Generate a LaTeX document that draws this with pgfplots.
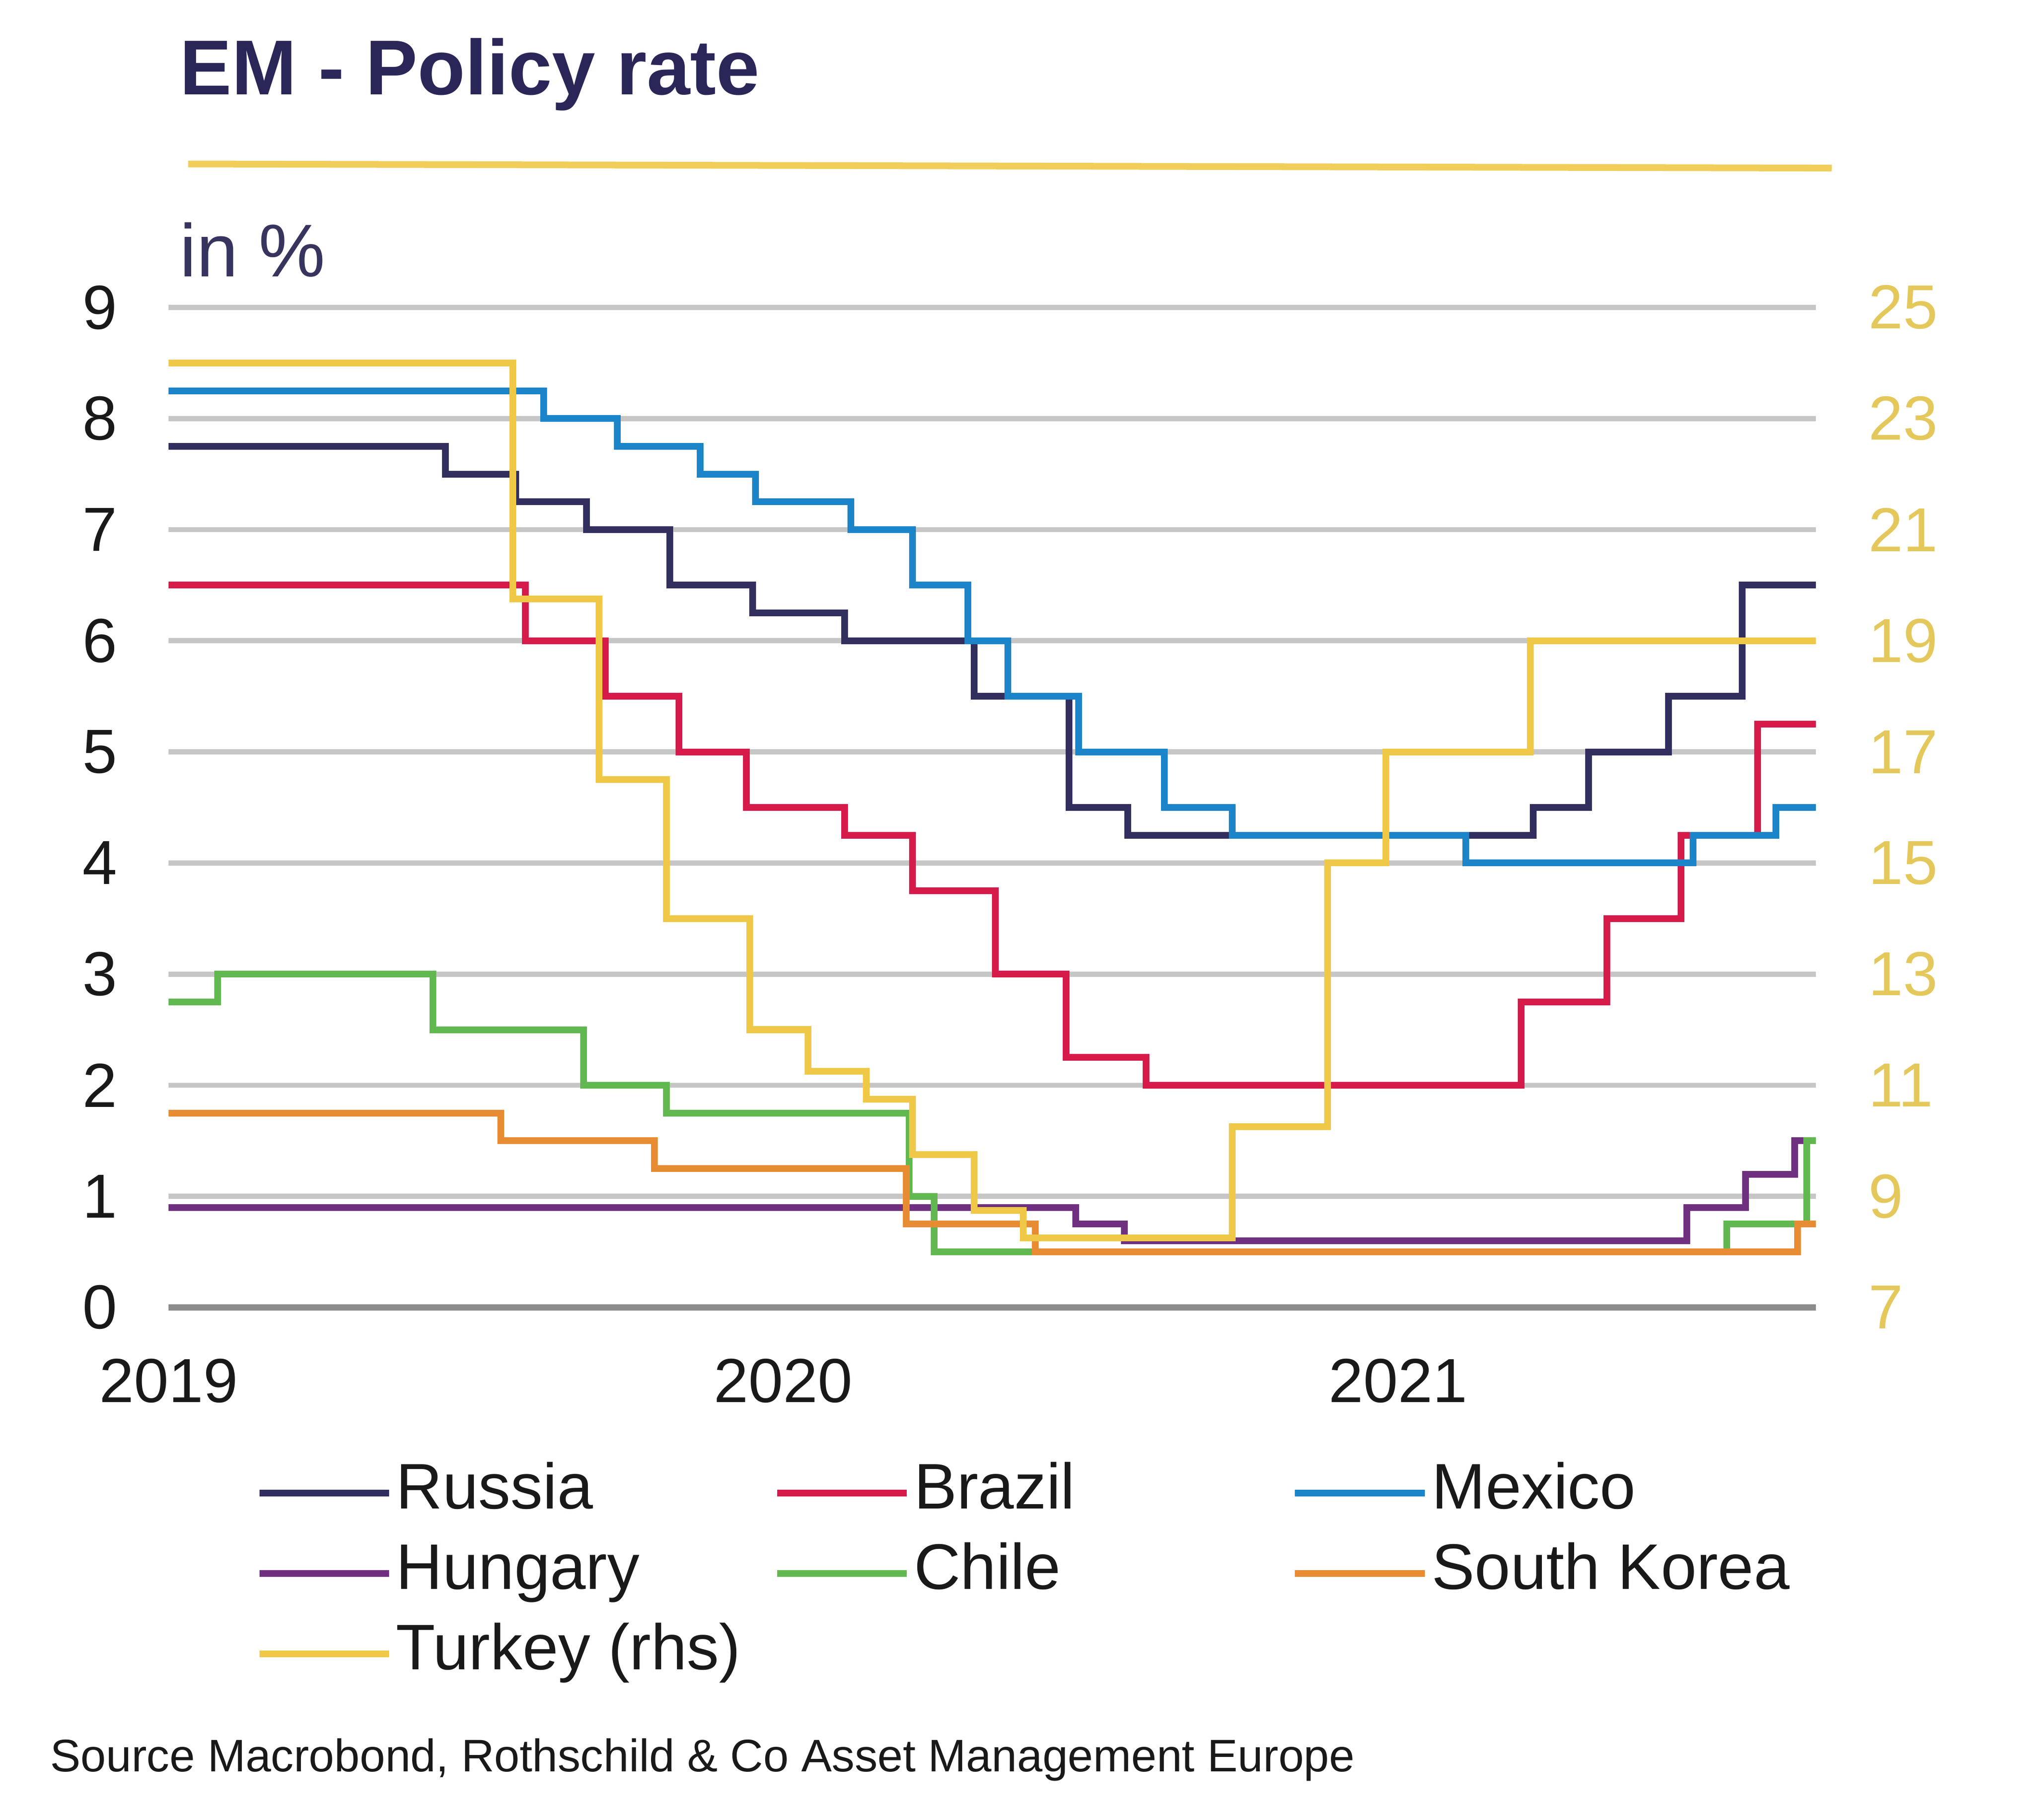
\documentclass[border=0pt]{standalone}
\usepackage{fontspec}
\setmainfont{Liberation Sans}
\usepackage{pgfplots}
\pgfplotsset{compat=1.18}
\usepackage{pgfplotstable}

\definecolor{cRussia}{RGB}{50,46,94}
\definecolor{cBrazil}{RGB}{214,26,74}
\definecolor{cMexico}{RGB}{28,132,200}
\definecolor{cHungary}{RGB}{112,48,128}
\definecolor{cChile}{RGB}{98,184,80}
\definecolor{cKorea}{RGB}{232,140,52}
\definecolor{cTurkey}{RGB}{240,200,72}
\definecolor{cTitle}{RGB}{42,38,88}
\definecolor{cGrid}{RGB}{198,198,198}
\definecolor{cZero}{RGB}{140,140,140}
\definecolor{cRight}{RGB}{228,200,92}
\definecolor{cTick}{RGB}{25,25,25}

\pgfplotstableread{
x y
2019.000 7.75
2019.450 7.50
2019.565 7.25
2019.680 7.00
2019.815 6.50
2019.950 6.25
2020.100 6.00
2020.310 5.50
2020.465 4.50
2020.560 4.25
2021.220 4.50
2021.310 5.00
2021.440 5.50
2021.560 6.50
2021.680 6.50
}\russia

\pgfplotstableread{
x y
2019.000 6.50
2019.580 6.00
2019.710 5.50
2019.830 5.00
2019.940 4.50
2020.100 4.25
2020.210 3.75
2020.345 3.00
2020.460 2.25
2020.590 2.00
2021.200 2.75
2021.340 3.50
2021.460 4.25
2021.585 5.25
2021.680 5.25
}\brazil

\pgfplotstableread{
x y
2019.000 8.25
2019.610 8.00
2019.730 7.75
2019.865 7.50
2019.955 7.25
2020.110 7.00
2020.210 6.50
2020.300 6.00
2020.365 5.50
2020.480 5.00
2020.620 4.50
2020.730 4.25
2021.110 4.00
2021.480 4.25
2021.615 4.50
2021.680 4.50
}\mexico

\pgfplotstableread{
x y
2019.000 0.90
2020.476 0.75
2020.555 0.60
2021.470 0.90
2021.565 1.20
2021.645 1.50
2021.680 1.50
}\hungary

\pgfplotstableread{
x y
2019.000 2.75
2019.080 3.00
2019.430 2.50
2019.675 2.00
2019.810 1.75
2020.205 1.00
2020.245 0.50
2021.535 0.75
2021.665 1.50
2021.680 1.50
}\chile

\pgfplotstableread{
x y
2019.000 1.75
2019.540 1.50
2019.790 1.25
2020.200 0.75
2020.410 0.50
2021.650 0.75
2021.680 0.75
}\korea

\pgfplotstableread{
x y
2019.000 24.00
2019.560 19.75
2019.700 16.50
2019.810 14.00
2019.945 12.00
2020.040 11.25
2020.135 10.75
2020.210 9.75
2020.310 8.75
2020.390 8.25
2020.730 10.25
2020.885 15.00
2020.980 17.00
2021.215 19.00
2021.680 19.00
}\turkey

\begin{document}
\begin{tikzpicture}
\path[use as bounding box] (0pt,0pt) rectangle (392pt,-350.75pt);

\begin{axis}[
  at={(32.5pt,-252pt)}, anchor=south west,
  scale only axis, width=317.5pt, height=192.75pt,
  xmin=2019, xmax=2021.68, ymin=0, ymax=9,
  xtick={2019,2020,2021}, xticklabels={2019,2020,2021},
  ytick={0,1,...,9},
  axis line style={draw=none}, tick style={draw=none},
  ymajorgrids, major grid style={draw=cGrid, line width=1pt},
  extra y ticks={0}, extra y tick labels={},
  extra y tick style={grid=major, major grid style={draw=cZero, line width=1.25pt}},
  /pgf/number format/assume math mode=true,
  ticklabel style={font=\fontsize{12}{14}\selectfont, text=cTick},
  yticklabel style={xshift=-6.4pt},
  xticklabel style={yshift=-6.4pt},
  legend columns=3,
  legend cell align=left,
  legend image code/.code={\draw[#1] (0pt,0pt) -- (25pt,0pt);},
  legend style={draw=none, fill=none, inner sep=0pt, outer sep=0pt,
    at={(axis description cs:0.053,-0.1545)}, anchor=north west,
    font=\fontsize{12.4}{14}\selectfont, text=cTick,
    row sep=3.5pt,
    nodes={inner sep=0pt, text height=9pt, text depth=3pt},
    /tikz/every odd column/.append style={column sep=0.75pt},
    /tikz/every even column/.append style={column sep=0pt}},
]
\addplot[cRussia, line width=1.3pt, const plot] table {\russia};
\addlegendentry{\makebox[72.75pt][l]{Russia}}
\addplot[cBrazil, line width=1.3pt, const plot] table {\brazil};
\addlegendentry{\makebox[72.75pt][l]{Brazil}}
\addplot[cMexico, line width=1.3pt, const plot] table {\mexico};
\addlegendentry{\makebox[72.75pt][l]{Mexico}}
\addplot[cHungary, line width=1.3pt, const plot] table {\hungary};
\addlegendentry{\makebox[72.75pt][l]{Hungary}}
\addplot[cChile, line width=1.3pt, const plot] table {\chile};
\addlegendentry{\makebox[72.75pt][l]{Chile}}
\addplot[cKorea, line width=1.3pt, const plot] table {\korea};
\addlegendentry{\makebox[72.75pt][l]{South Korea}}
\addlegendimage{cTurkey, line width=1.3pt}
\addlegendentry{\makebox[72.75pt][l]{Turkey (rhs)}}
\end{axis}

\begin{axis}[
  at={(32.5pt,-252pt)}, anchor=south west,
  scale only axis, width=317.5pt, height=192.75pt,
  xmin=2019, xmax=2021.68, ymin=7, ymax=25,
  xtick=\empty, ytick={7,9,...,25},
  yticklabel pos=right,
  axis line style={draw=none}, tick style={draw=none},
  /pgf/number format/assume math mode=true,
  yticklabel style={font=\fontsize{12}{14}\selectfont, text=cRight, xshift=6.6pt},
]
\addplot[cTurkey, line width=1.3pt, const plot] table {\turkey};
\end{axis}

\node[anchor=base west, inner sep=0pt, font=\fontsize{15}{17}\selectfont\bfseries, text=cTitle] at (34.5pt,-18.2pt) {EM - Policy rate};
\draw[cTurkey!90!white, line width=1.3pt] (36.25pt,-31.6pt) -- (353pt,-32.4pt);
\node[anchor=base west, inner sep=0pt, font=\fontsize{14.4}{16}\selectfont, text=cTitle!85!gray] at (34.5pt,-53.3pt) {in \%};
\node[anchor=base west, inner sep=0pt, font=\fontsize{8.8}{10}\selectfont, text=cTick] at (9.5pt,-341.5pt) {Source Macrobond, Rothschild \& Co Asset Management Europe};
\end{tikzpicture}
\end{document}
